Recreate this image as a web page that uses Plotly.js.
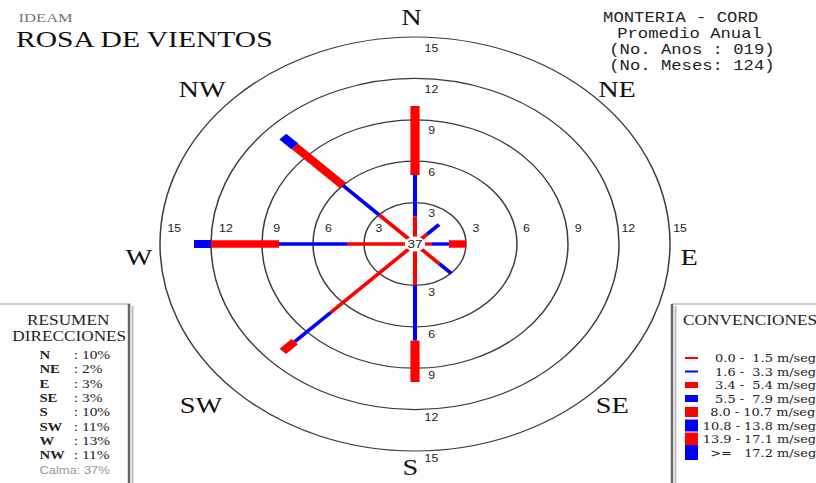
<!DOCTYPE html>
<html><head><meta charset="utf-8">
<script src="https://cdn.plot.ly/plotly-3.0.1.min.js"></script>
<style>
html,body{margin:0;padding:0;background:#fff;overflow:hidden}
/* the original figure is horizontally stretched: draw at 663px and stretch to 816px */
#chart{width:663px;height:483px;transform:scaleX(1.23077);transform-origin:0 0}
</style>
</head><body><div id="chart"></div>
<script>
// ---- data ----
const directions = ['N', 'NE', 'E', 'SE', 'S', 'SW', 'W', 'NW'];
// frequency (%) of each speed class per direction
const class1 = [2, 1, 1, 2, 3, 7, 4, 3];   // 0.0 - 1.5
const class2 = [3, 1, 1, 1, 4, 3, 4, 3];   // 1.6 - 3.3
const class3 = [5, 0, 1, 0, 3, 1, 4, 4];   // 3.4 - 5.4
const class4 = [0, 0, 0, 0, 0, 0, 1, 1];   // 5.5 - 7.9
const calm = 37;
const ringValues = [3, 6, 9, 12, 15];
const speedClassLabels = ['0.0 -  1.5 m/seg', '1.6 -  3.3 m/seg', '3.4 -  5.4 m/seg', '5.5 -  7.9 m/seg',
  '8.0 - 10.7 m/seg', '10.8 - 13.8 m/seg', '13.9 - 17.1 m/seg', '>=   17.2 m/seg'];
const compassLabels = ['N', 'NE', 'E', 'SE', 'S', 'SW', 'W', 'NW'];
const infoLines = ['MONTERIA - CORD', ' Promedio Anual', '(No. Anos : 019)', '(No. Meses: 124)'];

// ---- styles ----
const classColors = ['#ff0000', '#0000ff', '#ff0000', '#0000ff', '#ff0000', '#0000ff', '#ff0000', '#0000ff'];
const classHalfWidth = [0.12, 0.12, 0.27, 0.29, 0.35, 0.4, 0.45, 0.5];
const swatchHeights = [2, 2, 6, 7, 10, 12, 13, 15];
const W = 816, H = 483, CX = 415, CY = 244, SX = 17, SY = 13.8;
const WI = 663; // inner drawing width before the horizontal stretch

const classes = [class1, class2, class3, class4];
const traces = [];
directions.forEach((d, i) => {
  const a = (90 - 45 * i) * Math.PI / 180;
  const ux = Math.cos(a), uy = Math.sin(a);
  const pxv = -uy, pyv = ux;
  let r = 0;
  classes.forEach((arr, k) => {
    const v = arr[i];
    if (!v) return;
    const r0 = r, r1 = r + v, w = classHalfWidth[k];
    traces.push({
      type: 'scatter', mode: 'lines', fill: 'toself',
      x: [r0 * ux + w * pxv, r1 * ux + w * pxv, r1 * ux - w * pxv, r0 * ux - w * pxv, r0 * ux + w * pxv],
      y: [r0 * uy + w * pyv, r1 * uy + w * pyv, r1 * uy - w * pyv, r0 * uy - w * pyv, r0 * uy + w * pyv],
      fillcolor: classColors[k], line: {width: 0, color: classColors[k]},
      hoverinfo: 'skip', showlegend: false
    });
    r = r1;
  });
});

const shapes = [];
ringValues.forEach(r => shapes.push({type: 'circle', xref: 'x', yref: 'y', x0: -r, x1: r, y0: -r, y1: r,
  line: {color: '#3a3a3a', width: 1.2}, layer: 'below'}));
shapes.push({type: 'circle', xref: 'x', yref: 'y', x0: -0.6, x1: 0.6, y0: -0.55, y1: 0.55,
  fillcolor: '#fff', line: {width: 0}, layer: 'above'});

const px = x => x / W, py = y => 1 - y / H;
// boxes
shapes.push({type: 'line', xref: 'paper', yref: 'paper', x0: px(0), x1: px(131), y0: py(304), y1: py(304), line: {color: '#999', width: 1}});
shapes.push({type: 'line', xref: 'paper', yref: 'paper', x0: px(129), x1: px(129), y0: py(304), y1: py(483), line: {color: '#666', width: 2}});
shapes.push({type: 'line', xref: 'paper', yref: 'paper', x0: px(132.5), x1: px(132.5), y0: py(306), y1: py(483), line: {color: '#bbb', width: 1.6}});
shapes.push({type: 'line', xref: 'paper', yref: 'paper', x0: px(672), x1: px(816), y0: py(304), y1: py(304), line: {color: '#999', width: 1}});
shapes.push({type: 'line', xref: 'paper', yref: 'paper', x0: px(672), x1: px(672), y0: py(304), y1: py(483), line: {color: '#666', width: 2}});
shapes.push({type: 'line', xref: 'paper', yref: 'paper', x0: px(675.5), x1: px(675.5), y0: py(306), y1: py(483), line: {color: '#bbb', width: 1.6}});
// legend swatches
speedClassLabels.forEach((t, k) => {
  const yc = 358 + 13.5 * k, h = swatchHeights[k];
  shapes.push({type: 'rect', xref: 'paper', yref: 'paper', x0: px(685), x1: px(698), y0: py(yc - h / 2), y1: py(yc + h / 2),
    fillcolor: classColors[k], line: {width: 0}});
});

const annotations = [];
const ann = (text, x, y, size, family, color, xanchor, extra) => annotations.push(Object.assign({
  text, x: px(x), y: py(y), xref: 'paper', yref: 'paper', showarrow: false,
  xanchor: xanchor || 'left', yanchor: 'middle', font: {size, family, color}
}, extra || {}));
const SERIF = 'Liberation Serif, Times New Roman';

// ring labels
ringValues.forEach(r => {
  const f = {size: 10, family: 'Liberation Sans, Arial', color: '#222'};
  annotations.push({text: String(r), x: 1.0, y: r - 0.8, xref: 'x', yref: 'y', showarrow: false, font: f});
  annotations.push({text: String(r), x: 1.0, y: -(r + 0.55), xref: 'x', yref: 'y', showarrow: false, font: f});
  annotations.push({text: String(r), x: -(r - 0.9), y: 1.09, xref: 'x', yref: 'y', showarrow: false, font: f});
  annotations.push({text: String(r), x: r + 0.6, y: 1.09, xref: 'x', yref: 'y', showarrow: false, font: f});
});
// compass labels
const compassPos = [[-0.18, 16.4], [11.9, 11.2], [16.1, -1.0], [11.6, -11.7], [-0.3, -16.2], [-12.6, -11.7], [-16.2, -1.0], [-12.5, 11.2]];
compassLabels.forEach((t, i) => annotations.push({text: t, x: compassPos[i][0], y: compassPos[i][1], xref: 'x', yref: 'y',
  showarrow: false, font: {size: 23, family: SERIF, color: '#111'}}));
// calm
annotations.push({text: String(calm), x: 0, y: 0, xref: 'x', yref: 'y', showarrow: false,
  font: {size: 11, family: 'Liberation Sans, Arial', color: '#222'}});

// titles
ann('IDEAM', 16, 17, 13.5, SERIF, '#777');
ann('ROSA DE VIENTOS', 13, 39, 24, SERIF, '#111');
const infoX = [601, 604, 607, 607];
infoLines.forEach((t, i) => ann(t.replace(/ /g, '&nbsp;'), infoX[i], 18 + 15.9 * i, 14, 'Liberation Mono, Courier New', '#222'));

// summary box
ann('RESUMEN', 68, 320, 14, SERIF, '#222', 'center');
ann('DIRECCIONES', 69, 336, 14, SERIF, '#222', 'center');
const totals = directions.map((d, i) => class1[i] + class2[i] + class3[i] + class4[i]);
directions.forEach((d, i) => {
  const y = 355 + 14.3 * i;
  ann('<b>' + d + '</b>', 37, y, 12, SERIF, '#222');
  ann(': ' + totals[i] + '%', 71, y, 12.5, SERIF, '#222');
});
ann('Calma: ' + calm + '%', 37, 470, 10.5, 'Liberation Sans, Arial', '#999');

// legend box
ann('CONVENCIONES', 681, 320, 14, SERIF, '#222');
speedClassLabels.forEach((t, k) => ann(t.replace(/ /g, '&nbsp;'), 818, 358 + 13.5 * k, 10.5, 'DejaVu Serif', '#222', 'right'));

const layout = {
  width: WI, height: H, margin: {l: 0, r: 0, t: 0, b: 0},
  paper_bgcolor: '#fff', plot_bgcolor: '#fff', showlegend: false,
  xaxis: {range: [-CX / SX, (W - CX) / SX], visible: false, fixedrange: true},
  yaxis: {range: [-(H - CY) / SY, CY / SY], visible: false, fixedrange: true},
  shapes, annotations
};
Plotly.newPlot('chart', traces, layout, {displayModeBar: false, staticPlot: true});
</script></body></html>
